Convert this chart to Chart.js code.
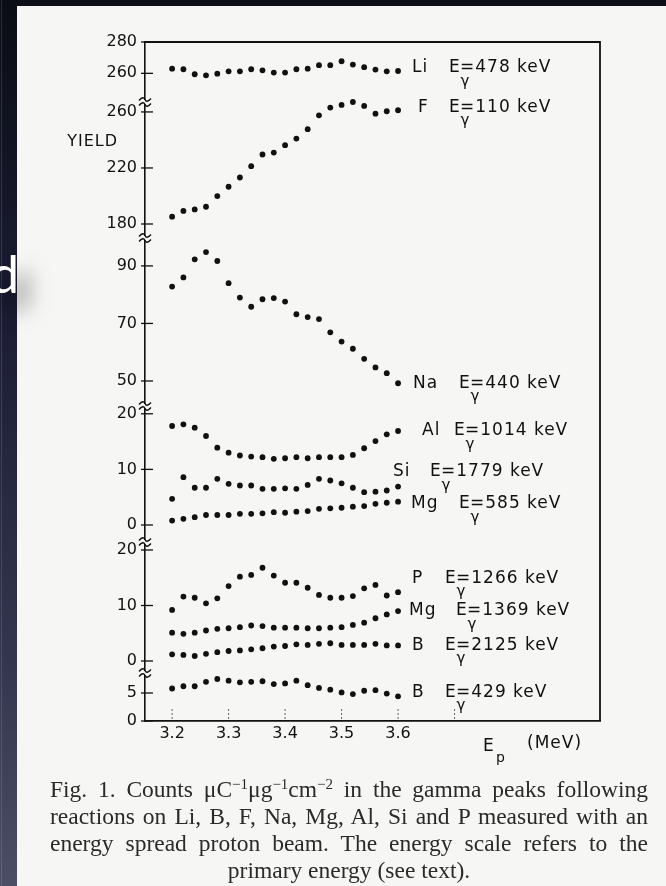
<!DOCTYPE html>
<html>
<head>
<meta charset="utf-8">
<script src="https://cdn.jsdelivr.net/npm/chart.js@4.4.1/dist/chart.umd.min.js"></script>
<style>
  html, body { margin: 0; padding: 0; }
  body { width: 666px; height: 886px; position: relative; overflow: hidden; background: #0c0f18; }
  .strip { position: absolute; left: 0; top: 0; width: 17px; height: 886px;
           background: linear-gradient(#0a0d15, #1b1c33 35%, #34364f 75%, #4c4e65); }
  .strip::before { content: ''; position: absolute; left: 1px; top: 0; bottom: 0; width: 1px; background: rgba(255,255,255,0.13); }
  .sheet { position: absolute; left: 17px; top: 6px; right: 0; bottom: 0; background: #f6f6f4; }
  #wrap { position: absolute; left: 0; top: 0; width: 666px; height: 780px; }
  .caption { position: absolute; left: 50px; top: 776px; width: 598px;
             font: 23.5px/27px "Liberation Serif", "Times New Roman", serif; color: #2a2a2a; filter: blur(0.4px); }
  .caption div { text-align: justify; text-align-last: justify; white-space: nowrap; }
  .caption div.last { text-align: center; text-align-last: center; }
  .caption sup { font-size: 15px; line-height: 0; vertical-align: 8px; }
  .glyph { position: absolute; left: -10px; top: 247px; font: 52px/52px Lato, sans-serif; color: #fff;
           text-shadow: 12px 16px 20px rgba(0,0,0,0.6); }
</style>
</head>
<body>
<div class="strip"></div>
<div class="sheet"></div>
<div id="wrap"><canvas id="yieldChart"></canvas></div>
<div class="caption">
  <div>Fig. 1. Counts &mu;C<sup>&minus;1</sup>&mu;g<sup>&minus;1</sup>cm<sup>&minus;2</sup> in the gamma peaks following</div>
  <div>reactions on Li, B, F, Na, Mg, Al, Si and P measured with an</div>
  <div>energy spread proton beam. The energy scale refers to the</div>
  <div class="last">primary energy (see text).</div>
</div>
<div class="glyph">d</div>

<script>
// proton energies (MeV), shared by every series
const energies = [3.20, 3.22, 3.24, 3.26, 3.28, 3.30, 3.32, 3.34, 3.36, 3.38, 3.40,
                  3.42, 3.44, 3.46, 3.48, 3.50, 3.52, 3.54, 3.56, 3.58, 3.60];

// yields per gamma line
const yieldLi478 = [263.0, 262.6, 259.4, 258.7, 259.8, 261.3, 261.3, 262.6, 261.9, 260.5, 260.5,
                    262.6, 263.0, 265.2, 265.2, 267.7, 265.6, 263.9, 262.4, 261.3, 261.5];
const yieldF110 = [185.2, 189.3, 190.4, 192.3, 199.9, 206.6, 213.2, 221.3, 229.6, 231.0, 236.3,
                   241.0, 247.7, 257.6, 263.1, 265.0, 267.1, 264.3, 258.8, 260.5, 261.2];
const yieldNa440 = [82.8, 86.0, 92.3, 94.8, 91.7, 84.0, 79.0, 75.8, 78.4, 78.8, 77.6,
                    73.2, 72.2, 71.5, 66.9, 63.7, 61.2, 57.7, 54.7, 52.7, 49.2];
const yieldAl1014 = [17.8, 18.1, 17.5, 16.0, 13.9, 13.0, 12.5, 12.3, 12.2, 11.9, 12.0,
                     12.2, 12.0, 12.2, 12.2, 12.2, 12.6, 13.8, 15.1, 16.3, 16.9];
const yieldSi1779 = [4.7, 8.6, 6.7, 6.7, 8.3, 7.4, 7.1, 7.1, 6.5, 6.5, 6.6,
                     6.5, 7.2, 8.3, 8.0, 7.5, 6.7, 5.9, 6.0, 6.2, 6.9];
const yieldMg585 = [0.8, 1.1, 1.4, 1.8, 1.8, 1.8, 2.0, 2.0, 2.1, 2.3, 2.2,
                    2.4, 2.5, 2.9, 3.0, 3.1, 3.3, 3.4, 3.8, 4.0, 4.2];
const yieldP1266 = [9.2, 11.6, 11.4, 10.4, 11.3, 13.5, 15.2, 15.5, 16.8, 15.4, 14.1,
                    14.1, 13.2, 11.9, 11.4, 11.4, 11.7, 13.1, 13.7, 11.8, 12.4];
const yieldMg1369 = [5.1, 4.9, 5.1, 5.5, 5.8, 5.9, 6.1, 6.4, 6.3, 6.0, 6.0,
                     6.0, 5.9, 5.9, 6.0, 6.1, 6.5, 6.9, 7.7, 8.4, 9.0];
const yieldB2125 = [1.2, 1.1, 0.9, 1.3, 1.6, 1.8, 1.9, 2.1, 2.3, 2.6, 2.7,
                    3.0, 2.9, 3.1, 3.2, 2.9, 2.9, 2.9, 3.1, 2.8, 2.8];
const yieldB429 = [5.8, 6.2, 6.2, 7.0, 7.5, 7.2, 6.9, 7.0, 7.1, 6.6, 6.7,
                   7.2, 6.4, 5.9, 5.6, 5.1, 4.8, 5.4, 5.5, 4.9, 4.4];

const elements = ['Li', 'F', 'Na', 'Al', 'Si', 'Mg', 'P', 'Mg', 'B', 'B'];
const gammaKeV = [478, 110, 440, 1014, 1779, 585, 1266, 1369, 2125, 429];

// tick values of each broken-axis panel, top to bottom
const ticksLi = [260, 280];
const ticksF = [180, 220, 260];
const ticksNa = [50, 70, 90];
const ticksAl = [0, 10, 20];
const ticksP = [0, 10, 20];
const ticksB = [0, 5];
const energyTicks = [3.2, 3.3, 3.4, 3.5, 3.6, 3.7];
const energyTickLabels = ['3.2', '3.3', '3.4', '3.5', '3.6', ''];

const series = [yieldLi478, yieldF110, yieldNa440, yieldAl1014, yieldSi1779,
                yieldMg585, yieldP1266, yieldMg1369, yieldB2125, yieldB429];
const seriesAxis = ['yLi', 'yF', 'yNa', 'yAl', 'yAl', 'yAl', 'yP', 'yP', 'yP', 'yB'];

const INK = '#111';
const AXIS_W = 145;
Chart.defaults.font.family = "'DejaVu Sans', sans-serif";
Chart.defaults.color = INK;

// one panel of the stacked y axis; h is its height share
function panel(min, max, ticks, h, order) {
  return {
    type: 'linear', position: 'left', stack: 'yield', stackWeight: h, weight: order,
    min: min, max: max,
    afterBuildTicks: s => { s.ticks = ticks.map(v => ({ value: v })); },
    afterFit: s => { s.width = AXIS_W; },
    border: { color: INK, width: 1.6 },
    grid: { drawOnChartArea: false, drawTicks: false },
    ticks: { padding: 8, color: INK, font: { size: 16 } }
  };
}

// name and gamma-energy text at the end of each row (x in px, dy from last point)
const labelPlace = [
  { nameX: 412, eX: 449, dy: -3 },
  { nameX: 418, eX: 449, dy: -3 },
  { nameX: 413, eX: 459, dy: 0 },
  { nameX: 422, eX: 454, dy: 0 },
  { nameX: 393, eX: 430, dy: -15 },
  { nameX: 411, eX: 459, dy: 2 },
  { nameX: 412, eX: 445, dy: -14 },
  { nameX: 409, eX: 456, dy: 0 },
  { nameX: 412, eX: 445, dy: 0 },
  { nameX: 412, eX: 445, dy: -4 }
];

const rowLabels = {
  id: 'rowLabels',
  afterDatasetsDraw(chart) {
    const ctx = chart.ctx;
    ctx.save();
    ctx.fillStyle = INK;
    ctx.textBaseline = 'middle';
    chart.data.datasets.forEach((ds, i) => {
      const pts = chart.getDatasetMeta(i).data;
      const y = pts[pts.length - 1].y + labelPlace[i].dy;
      const p = labelPlace[i];
      ctx.font = "17px 'DejaVu Sans'";
      ctx.letterSpacing = '1px';
      ctx.textAlign = 'left';
      ctx.fillText(elements[i], p.nameX, y);
      ctx.fillText('E', p.eX, y);
      ctx.fillText('=' + gammaKeV[i] + ' keV', p.eX + 11, y);
      ctx.letterSpacing = '0px';
      ctx.font = "15px 'DejaVu Sans'";
      ctx.textAlign = 'center';
      ctx.fillText('γ', p.eX + 16, y + 14);
    });
    ctx.restore();
  }
};

// frame, crossing ticks, axis breaks and the axis titles
const frame = {
  id: 'frame',
  afterDraw(chart) {
    const { ctx, chartArea: a, scales } = chart;
    const seg = (x1, y1, x2, y2) => { ctx.beginPath(); ctx.moveTo(x1, y1); ctx.lineTo(x2, y2); ctx.stroke(); };
    ctx.save();
    ctx.strokeStyle = INK;
    ctx.lineWidth = 1.8;
    ctx.beginPath();
    ctx.moveTo(a.left, a.top);
    ctx.lineTo(a.right, a.top);
    ctx.lineTo(a.right, a.bottom);
    ctx.stroke();

    const panels = ['yLi', 'yF', 'yNa', 'yAl', 'yP', 'yB'];
    ctx.lineWidth = 1.3;
    panels.forEach(id => {
      const s = scales[id];
      s.ticks.forEach(t => {
        const y = s.getPixelForValue(t.value);
        seg(a.left - 4, y, a.left + 8, y);
      });
    });

    ctx.lineWidth = 1;
    ctx.strokeStyle = '#666';
    ctx.setLineDash([2, 2]);
    scales.x.ticks.forEach(t => {
      const x = scales.x.getPixelForValue(t.value);
      seg(x, a.bottom - 2, x, a.bottom - 13);
    });
    ctx.setLineDash([]);

    // break marks where one panel meets the next
    ctx.strokeStyle = INK;
    ctx.lineWidth = 1.3;
    panels.slice(1).forEach(id => {
      const y = scales[id].top;
      const x = a.left;
      ctx.fillStyle = '#f6f6f4';
      ctx.fillRect(x - 2, y - 2, 4, 4);
      [-2.5, 2.5].forEach(d => {
        const yy = y + d;
        ctx.beginPath();
        ctx.moveTo(x - 6, yy + 1);
        ctx.bezierCurveTo(x - 3, yy - 2.5, x - 1, yy - 2.5, x, yy);
        ctx.bezierCurveTo(x + 1, yy + 2.5, x + 3, yy + 2.5, x + 6, yy - 1);
        ctx.stroke();
      });
    });

    ctx.fillStyle = INK;
    ctx.textBaseline = 'middle';
    ctx.font = "16px 'DejaVu Sans'";
    ctx.letterSpacing = '1px';
    ctx.textAlign = 'right';
    ctx.fillText('YIELD', a.left - 27, a.top + 100);
    ctx.textAlign = 'left';
    ctx.font = "17px 'DejaVu Sans'";
    ctx.fillText('E', 483, 747);
    ctx.fillText('(MeV)', 527, 744);
    ctx.font = "14px 'DejaVu Sans'";
    ctx.fillText('p', 496, 758);
    ctx.restore();
  }
};

new Chart(document.getElementById('yieldChart'), {
  type: 'scatter',
  data: {
    datasets: series.map((vals, i) => ({
      label: elements[i] + ' ' + gammaKeV[i] + ' keV',
      data: vals.map((v, k) => ({ x: energies[k], y: v })),
      yAxisID: seriesAxis[i],
      pointRadius: 2.9,
      pointBackgroundColor: INK,
      pointBorderWidth: 0,
      clip: false
    }))
  },
  options: {
    responsive: true,
    maintainAspectRatio: false,
    animation: false,
    layout: { padding: { top: 42, right: 66, left: 0, bottom: 0 } },
    plugins: { legend: { display: false }, tooltip: { enabled: false } },
    scales: {
      x: {
        type: 'linear', position: 'bottom', min: 3.152, max: 3.9575,
        afterBuildTicks: s => { s.ticks = energyTicks.map(v => ({ value: v })); },
        afterFit: s => { s.height = 59; },
        border: { color: INK, width: 1.8 },
        grid: { drawOnChartArea: false, drawTicks: false },
        ticks: { padding: 3, autoSkip: false, maxRotation: 0, color: INK, font: { size: 16 },
                 callback: (v, i) => energyTickLabels[i] }
      },
      yLi: panel(241.7, 280, ticksLi, 60, 6),
      yF: panel(170, 267.1, ticksF, 136, 5),
      yNa: panel(41.3, 99.7, ticksNa, 168, 4),
      yAl: panel(-3.06, 21.4, ticksAl, 136, 3),
      yP: panel(-2.16, 21.44, ticksP, 131, 2),
      yB: panel(0, 8.57, ticksB, 48, 1)
    }
  },
  plugins: [rowLabels, frame]
});
</script>
</body>
</html>
